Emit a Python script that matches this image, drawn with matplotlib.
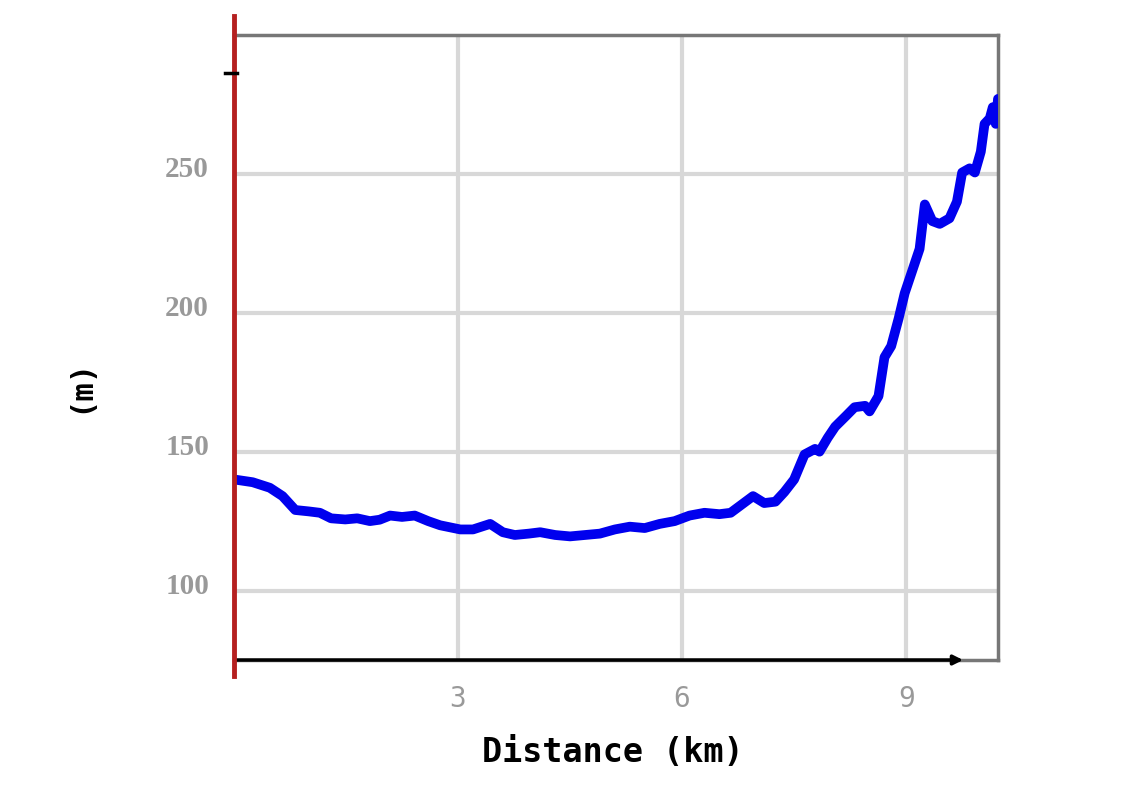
import matplotlib.pyplot as plt
from matplotlib.transforms import ScaledTranslation
import numpy as np

# elevation profile
dist_km = [0.0, 0.25, 0.48, 0.65, 0.82, 1.0, 1.15, 1.3, 1.49, 1.65, 1.82, 1.95, 2.09, 2.25,
           2.42, 2.6, 2.76, 3.03, 3.2, 3.43, 3.6, 3.76, 3.95, 4.1, 4.3, 4.5, 4.7, 4.9, 5.1,
           5.3, 5.5, 5.7, 5.9, 6.1, 6.3, 6.5, 6.65, 6.8, 6.95, 7.1, 7.25, 7.37, 7.5, 7.64,
           7.78, 7.84, 7.95, 8.05, 8.2, 8.31, 8.45, 8.51, 8.63, 8.71, 8.8, 8.9, 8.98, 9.08,
           9.18, 9.25, 9.35, 9.45, 9.58, 9.68, 9.75, 9.85, 9.92, 10.0, 10.05, 10.12, 10.16,
           10.2, 10.23]
elev_m = [140, 139, 137, 134, 129, 128.5, 128, 126, 125.6, 126, 125, 125.5, 127, 126.5,
          127, 125, 123.5, 122, 122, 124, 121, 120, 120.5, 121, 120, 119.5, 120, 120.5, 122,
          123, 122.5, 124, 125, 127, 128, 127.5, 128, 131, 134, 131.5, 132, 135.5, 140, 149,
          151, 150, 155, 159, 163, 166, 166.5, 164.5, 170, 184, 188, 198, 207, 215, 223, 239,
          233, 232, 234, 240, 250.5, 252, 250.5, 258, 268, 270, 274, 268, 277]

W, H = 1129, 800
fig = plt.figure(figsize=(W / 100, H / 100), dpi=100)
ax = fig.add_axes([234 / W, 1 - 660 / H, (998 - 234) / W, (660 - 35) / H])

ax.plot(dist_km, elev_m, color='#0000ee', lw=7, solid_joinstyle='round',
        solid_capstyle='round', zorder=3)

ax.set_xlim(0, 10.23)
ax.set_ylim(75, 300)
ax.set_xticks([3, 6, 9])
ax.set_yticks([100, 150, 200, 250])
ax.grid(True, color='#d8d8d8', lw=3)
ax.set_axisbelow(True)
ax.tick_params(axis='y', length=0, pad=18)
ax.tick_params(axis='x', length=0, pad=18)

up = ScaledTranslation(0, 0.07, fig.dpi_scale_trans)
for lab in ax.get_yticklabels():
    lab.set_fontfamily('Liberation Serif')
    lab.set_fontweight('bold')
    lab.set_fontsize(21)
    lab.set_color('#999999')
    lab.set_transform(lab.get_transform() + up)
for lab in ax.get_xticklabels():
    lab.set_fontfamily('DejaVu Sans Mono')
    lab.set_fontsize(20)
    lab.set_color('#999999')

for s in ['top', 'right', 'bottom']:
    ax.spines[s].set_color('#777777')
    ax.spines[s].set_linewidth(2.5)
ax.spines['left'].set_visible(False)

# black x axis with arrow, red y axis line
ax.annotate('', xy=(9.8, 75), xytext=(0, 75),
            arrowprops=dict(arrowstyle='-|>', color='black', lw=2.5, mutation_scale=14),
            annotation_clip=False, zorder=4)
ax.plot([0, 0], [-0.025, 1.03], transform=ax.transAxes, color='#b52020', lw=3.5,
        clip_on=False, zorder=5)
ax.plot([-0.012, 0.004], [0.94, 0.94], transform=ax.transAxes, color='black', lw=2.5,
        clip_on=False, zorder=6)

fig.text(613 / W, 1 - 752 / H, 'Distance (km)', ha='center', va='center',
         fontfamily='DejaVu Sans Mono', fontweight='bold', fontsize=24)
fig.text(80 / W, 1 - 385 / H, '(m)', ha='center', va='center', rotation=90,
         fontfamily='DejaVu Sans Mono', fontweight='bold', fontsize=22)

fig.savefig('out.png', dpi=100)
